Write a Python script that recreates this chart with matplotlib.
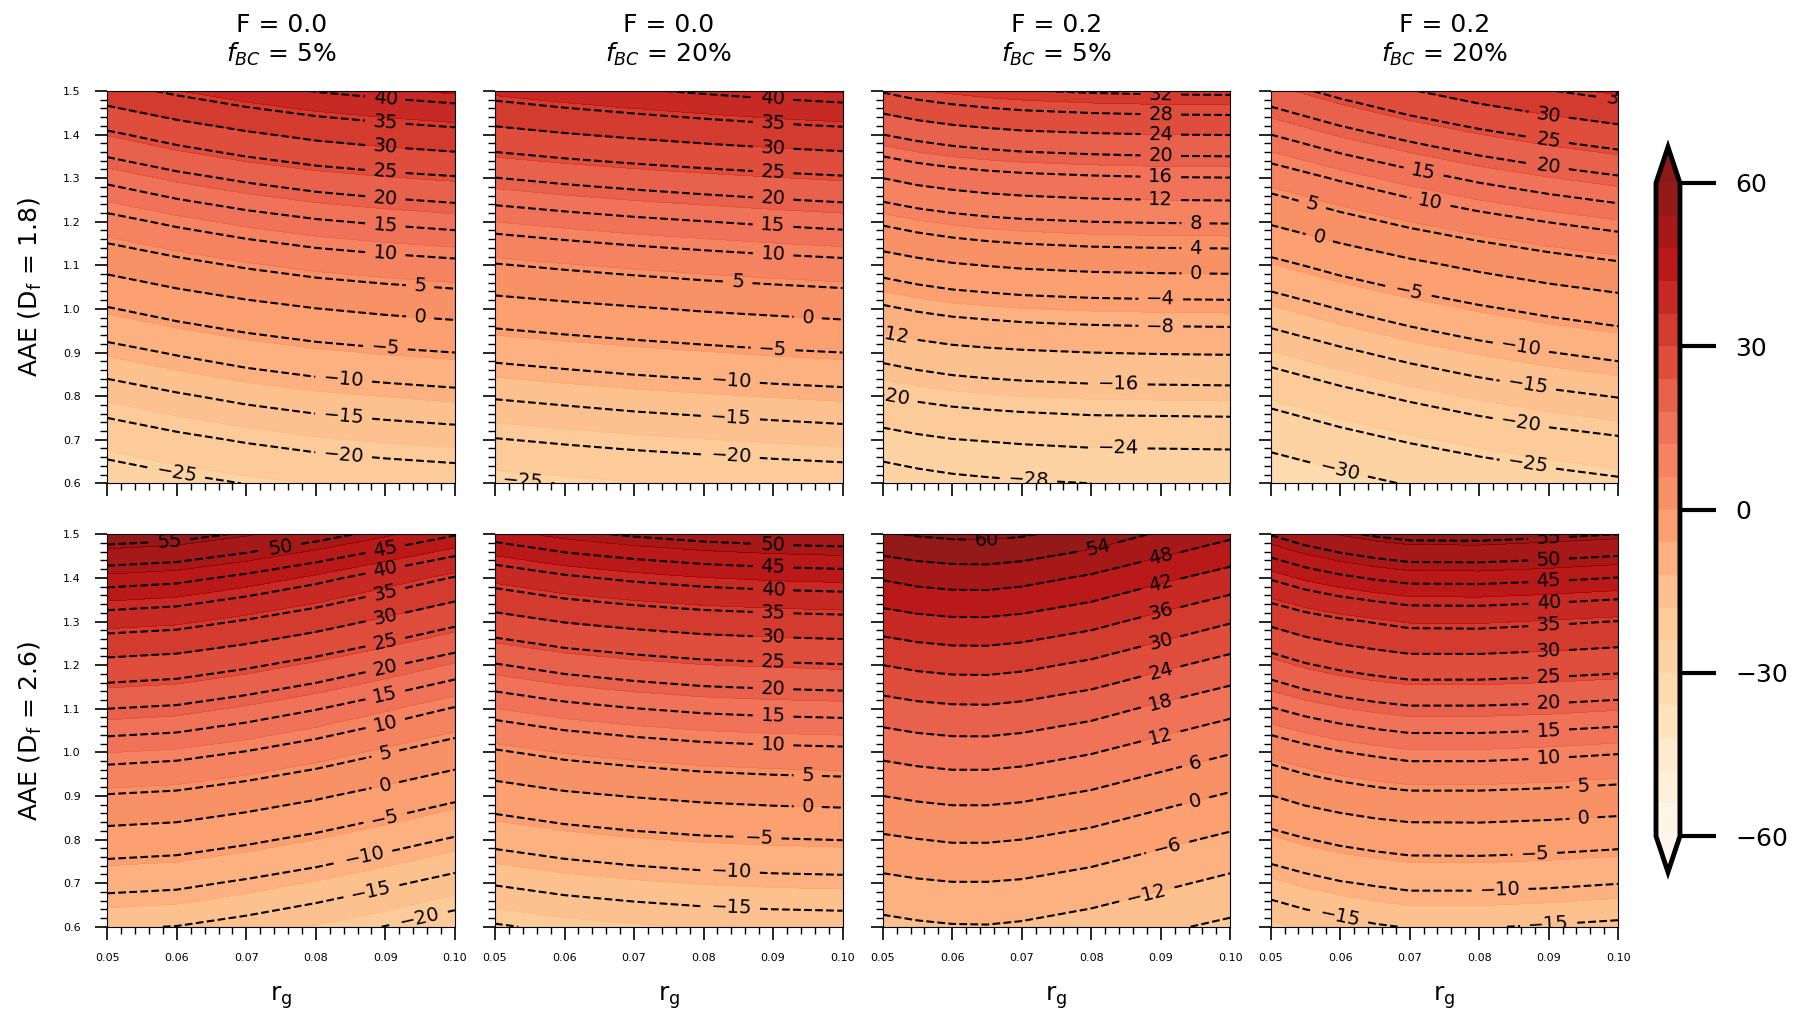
import numpy as np
import matplotlib
matplotlib.use("Agg")
import matplotlib.pyplot as plt
from matplotlib.ticker import AutoMinorLocator, FormatStrFormatter

# values: rows = AAE 0.6 -> 1.5, columns = r_g grid of the panel
rg = [0.05, 0.06, 0.07, 0.08, 0.09, 0.10]
rg_fine = [0.05, 0.055, 0.06, 0.065, 0.07, 0.08, 0.09, 0.10]
aae = [0.6, 0.7, 0.8, 0.9, 1.0, 1.1, 1.2, 1.3, 1.4, 1.5]

# top row, D_f = 1.8
d18_F00_f05 = [
    [-27.8, -26.2, -24.9, -23.9, -23.2, -22.6],
    [-22.7, -21.0, -19.6, -18.4, -17.6, -17.0],
    [-17.3, -15.5, -13.9, -12.7, -11.9, -11.2],
    [-11.5, -9.6, -7.9, -6.6, -5.7, -5.0],
    [-5.3, -3.2, -1.5, -0.1, 0.9, 1.7],
    [1.4, 3.6, 5.5, 7.0, 8.0, 8.8],
    [8.5, 10.9, 12.9, 14.5, 15.6, 16.5],
    [16.1, 18.7, 20.8, 22.5, 23.7, 24.6],
    [24.2, 27.0, 29.3, 31.2, 32.5, 33.5],
    [33.0, 35.9, 38.3, 40.2, 41.5, 42.6],
]
d18_F00_f20 = [
    [-25.6, -24.9, -24.2, -23.7, -23.1, -22.7],
    [-20.2, -19.4, -18.7, -18.1, -17.6, -17.1],
    [-14.6, -13.8, -13.0, -12.4, -11.8, -11.3],
    [-8.6, -7.7, -6.9, -6.2, -5.5, -5.0],
    [-2.1, -1.2, -0.4, 0.4, 1.0, 1.6],
    [4.7, 5.7, 6.6, 7.4, 8.1, 8.7],
    [12.0, 13.1, 14.1, 14.9, 15.7, 16.4],
    [19.9, 21.1, 22.1, 23.0, 23.8, 24.5],
    [28.4, 29.7, 30.8, 31.8, 32.7, 33.4],
    [36.9, 38.3, 39.5, 40.6, 41.6, 42.4],
]
d18_F02_f05 = [  # on rg_fine
    [-30.5, -29.7, -29.1, -28.7, -28.4, -28.0, -27.9, -27.8],
    [-25.5, -24.7, -24.1, -23.8, -23.5, -23.1, -23.0, -22.9],
    [-20.1, -19.3, -18.7, -18.3, -18.0, -17.6, -17.5, -17.4],
    [-14.7, -13.8, -13.1, -12.7, -12.4, -12.0, -11.8, -11.7],
    [-8.6, -7.6, -6.9, -6.5, -6.1, -5.7, -5.5, -5.4],
    [-2.2, -1.2, -0.4, 0.1, 0.5, 1.0, 1.2, 1.3],
    [4.6, 5.7, 6.5, 7.1, 7.5, 8.0, 8.2, 8.3],
    [12.0, 13.2, 14.0, 14.6, 15.0, 15.5, 15.8, 15.9],
    [20.0, 21.2, 22.1, 22.7, 23.2, 23.7, 24.0, 24.1],
    [28.3, 29.7, 30.6, 31.3, 31.8, 32.4, 32.7, 32.8],
]
d18_F02_f20 = [
    [-33.5, -31.5, -29.7, -28.2, -26.9, -25.8],
    [-28.6, -26.5, -24.6, -23.0, -21.6, -20.5],
    [-23.6, -21.3, -19.3, -17.5, -16.0, -14.8],
    [-18.2, -15.8, -13.6, -11.7, -10.1, -8.8],
    [-12.5, -9.9, -7.6, -5.6, -3.9, -2.5],
    [-6.3, -3.5, -1.1, 1.0, 2.8, 4.3],
    [0.5, 3.4, 6.0, 8.2, 10.1, 11.7],
    [7.4, 10.5, 13.3, 15.8, 17.8, 19.5],
    [15.0, 18.4, 21.3, 23.9, 26.1, 27.9],
    [22.8, 26.4, 29.7, 32.5, 34.8, 36.8],
]

# bottom row, D_f = 2.6
d26_F00_f05 = [
    [-14.6, -15.1, -16.5, -18.2, -20.1, -22.2],
    [-8.6, -9.1, -10.6, -12.3, -14.3, -16.4],
    [-2.1, -2.7, -4.2, -6.0, -8.2, -10.4],
    [4.7, 4.1, 2.5, 0.6, -1.7, -4.1],
    [12.1, 11.4, 9.8, 7.7, 5.2, 2.7],
    [20.0, 19.3, 17.4, 15.2, 12.5, 9.7],
    [28.4, 27.6, 25.7, 23.3, 20.5, 17.6],
    [37.5, 36.7, 34.6, 32.1, 29.1, 26.0],
    [47.1, 46.2, 44.0, 41.3, 38.0, 34.7],
    [57.4, 56.6, 54.4, 51.7, 48.6, 45.3],
]
d26_F00_f20 = [
    [-20.4, -19.2, -18.4, -17.8, -17.4, -17.2],
    [-14.7, -13.4, -12.5, -11.8, -11.4, -11.2],
    [-8.7, -7.3, -6.3, -5.6, -5.2, -4.9],
    [-2.4, -0.8, 0.2, 1.0, 1.5, 1.8],
    [4.5, 6.2, 7.3, 8.2, 8.7, 9.0],
    [11.9, 13.7, 14.9, 15.8, 16.3, 16.6],
    [19.7, 21.6, 22.9, 23.9, 24.4, 24.8],
    [28.1, 30.2, 31.5, 32.5, 33.1, 33.5],
    [37.1, 39.3, 40.8, 41.9, 42.6, 43.0],
    [46.7, 49.0, 50.5, 51.6, 52.3, 52.7],
]
d26_F02_f05 = [  # on rg_fine
    [-13.7, -12.9, -12.4, -12.3, -12.8, -14.6, -17.1, -19.2],
    [-7.5, -6.7, -6.2, -6.2, -6.6, -8.4, -10.9, -13.4],
    [-0.9, -0.1, 0.5, 0.5, 0.0, -1.9, -4.6, -7.2],
    [6.0, 6.9, 7.5, 7.5, 7.0, 5.0, 2.1, -0.6],
    [13.4, 14.4, 15.0, 15.0, 14.4, 12.3, 9.2, 6.3],
    [21.4, 22.5, 23.1, 23.2, 22.5, 20.2, 16.8, 13.7],
    [30.0, 31.2, 31.9, 32.0, 31.3, 28.8, 25.2, 21.8],
    [39.1, 40.3, 41.0, 41.0, 40.3, 37.8, 34.0, 30.4],
    [48.5, 49.9, 50.6, 50.7, 49.9, 47.1, 43.2, 39.5],
    [59.3, 60.5, 61.2, 61.4, 60.6, 57.6, 53.2, 49.2],
]
d26_F02_f20 = [  # on rg_fine
    [-18.8, -17.4, -16.4, -15.4, -14.8, -14.8, -15.3, -15.9],
    [-12.7, -11.4, -10.3, -9.6, -9.0, -9.0, -9.3, -9.9],
    [-6.6, -5.2, -4.1, -3.3, -2.7, -2.6, -3.0, -3.6],
    [-0.1, 1.5, 2.6, 3.5, 4.1, 4.1, 3.7, 3.1],
    [6.9, 8.5, 9.8, 10.7, 11.5, 11.5, 11.0, 10.3],
    [14.7, 16.4, 17.7, 18.7, 19.4, 19.4, 19.0, 18.3],
    [22.6, 24.6, 26.0, 27.0, 27.8, 27.8, 27.3, 26.6],
    [31.0, 32.9, 34.3, 35.3, 36.3, 36.4, 35.7, 34.9],
    [40.4, 42.6, 44.2, 45.4, 46.3, 46.4, 45.8, 44.9],
    [50.2, 52.5, 54.2, 55.5, 56.4, 56.5, 55.8, 55.0],
]

panels = [[d18_F00_f05, d18_F00_f20, d18_F02_f05, d18_F02_f20],
          [d26_F00_f05, d26_F00_f20, d26_F02_f05, d26_F02_f20]]
panel_rg = [[rg, rg, rg_fine, rg],
            [rg, rg, rg_fine, rg_fine]]
titles = ["F = 0.0\n$f_{BC}$ = 5%", "F = 0.0\n$f_{BC}$ = 20%",
          "F = 0.2\n$f_{BC}$ = 5%", "F = 0.2\n$f_{BC}$ = 20%"]
ylabels = ["AAE (D$_\\mathrm{f}$ = 1.8)", "AAE (D$_\\mathrm{f}$ = 2.6)"]
line_steps = [[5, 5, 4, 5], [5, 5, 6, 5]]
fill_levels = np.arange(-60, 61, 6)

# where along r_g each contour label sits (default 0.09)
label_x = {
    (0, 0): {5: 0.095, 0: 0.095, -10: 0.084, -15: 0.084, -20: 0.084, -25: 0.06},
    (0, 1): {5: 0.085, 0: 0.095, -10: 0.084, -15: 0.084, -20: 0.084, -25: 0.054},
    (0, 2): {8: 0.095, 4: 0.095, 0: 0.095, -12: 0.051, -16: 0.084, -20: 0.051,
             -24: 0.084, -28: 0.071},
    (0, 3): {15: 0.072, 10: 0.073, 5: 0.056, 0: 0.057, -5: 0.070, -10: 0.086,
             -15: 0.087, -20: 0.086, -25: 0.087, -30: 0.060},
    (1, 0): {55: 0.059, 50: 0.075, -10: 0.087, -15: 0.088, -20: 0.095},
    (1, 1): {5: 0.095, 0: 0.095, -5: 0.088, -10: 0.084, -15: 0.084},
    (1, 2): {60: 0.065, 54: 0.081, 6: 0.095, 0: 0.095, -6: 0.091, -12: 0.088},
    (1, 3): {5: 0.095, 0: 0.095, -5: 0.088, -10: 0.083},
}


def label_spots(cs, where):
    spots = []
    for lev, segs in zip(cs.levels, cs.allsegs):
        tx = where.get(int(round(lev)), 0.09)
        for seg in segs:
            if len(seg) < 2:
                continue
            xs, ys = seg[:, 0], seg[:, 1]
            if np.ptp(xs) < 0.006 and np.ptp(ys) < 0.05:
                continue  # tiny corner piece, left unlabelled
            if xs.min() <= tx <= xs.max():
                order = np.argsort(xs)
                spots.append((tx, np.interp(tx, xs[order], ys[order])))
            else:
                k = len(seg) // 2
                spots.append((xs[k], ys[k]))
    return spots


fig = plt.figure(figsize=(18, 10.24), dpi=100)
lefts = [0.0596, 0.2750, 0.4904, 0.7059]
bottoms = [0.528, 0.095]
w, h = 0.1931, 0.3832

for i in range(2):
    for j in range(4):
        ax = fig.add_axes([lefts[j], bottoms[i], w, h])
        x = panel_rg[i][j]
        z = np.array(panels[i][j])
        cf = ax.contourf(x, aae, z, levels=fill_levels, cmap="OrRd",
                         extend="both", alpha=0.9)
        st = line_steps[i][j]
        cs = ax.contour(x, aae, z, levels=np.arange(-60, 61, st), colors="k",
                        linestyles="dashed", linewidths=1.5)
        ax.clabel(cs, fontsize=14, inline=True, inline_spacing=8,
                  manual=label_spots(cs, label_x[(i, j)]))

        ax.set_xticks(rg)
        ax.set_yticks(aae)
        ax.set_xlim(0.05, 0.10)
        ax.set_ylim(0.6, 1.5)
        ax.xaxis.set_major_formatter(FormatStrFormatter("%.2f"))
        ax.yaxis.set_major_formatter(FormatStrFormatter("%.1f"))
        ax.xaxis.set_minor_locator(AutoMinorLocator(5))
        ax.yaxis.set_minor_locator(AutoMinorLocator(5))
        ax.tick_params(which="major", direction="out", length=9, width=1.2,
                       labelsize=8, pad=10)
        ax.tick_params(which="minor", direction="out", length=5, width=1)

        if i == 0:
            ax.set_title(titles[j], fontsize=18, pad=21)
            ax.tick_params(labelbottom=False)
        else:
            ax.set_xlabel("r$_\\mathrm{g}$", fontsize=18, labelpad=15)
        if j == 0:
            ax.set_ylabel(ylabels[i], fontsize=18, labelpad=14)
        else:
            ax.tick_params(labelleft=False)

cax = fig.add_axes([0.92, 0.1484, 0.0133, 0.708])
cb = fig.colorbar(cf, cax=cax, ticks=[-60, -30, 0, 30, 60], extendfrac=0.055)
cb.outline.set_linewidth(3.5)
cb.ax.tick_params(length=26, width=3, labelsize=18, pad=14)

fig.savefig("out.png", dpi=100)
